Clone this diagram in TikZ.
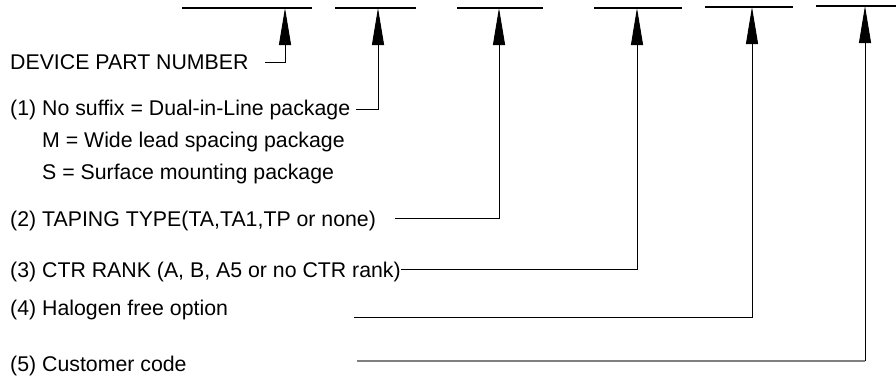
\documentclass[tikz,border=0pt]{standalone}
\usepackage{fontspec}
\setmainfont{Liberation Sans}
\usetikzlibrary{arrows.meta}
\tikzset{
  lbl/.style={anchor=base west, inner sep=0pt, font=\fontsize{21.3}{25}\selectfont},
  bar/.style={line width=1.1pt, black},
  conn/.style={line width=0.9pt, black, -{Triangle[length=37pt,width=12pt]}},
  graybar/.style={line width=1.8pt, gray},
}
\begin{document}
\begin{tikzpicture}[x=1pt,y=-1pt]
\useasboundingbox (0,0) rectangle (896,376);
% top bars
\draw[bar] (182,8) -- (312,8);
\draw[bar] (335,8) -- (416,8);
\draw[bar] (457,8) -- (543,8);
\draw[bar] (594,8) -- (682,8);
\draw[bar] (705,7) -- (793,7);
\draw[bar] (816,6) -- (896,6);
% arrow tips on bars
\coordinate (t0) at (285,8);
\coordinate (t1) at (378,8);
\coordinate (t2) at (499,8);
\coordinate (t3) at (637,8);
\coordinate (t4) at (752,7);
\coordinate (t5) at (865,6);
% labels
\node[lbl] (dpn) at (10,69) {DEVICE PART NUMBER};
\node[lbl] (l1) at (10,115) {(1) No suffix = Dual-in-Line package};
\node[lbl] (l1m) at (10,147) {\phantom{(1) }M = Wide lead spacing package};
\node[lbl] (l1s) at (10,179) {\phantom{(1) }S = Surface mounting package};
\node[lbl] (l2) at (10,226) {(2) TAPING TYPE(TA,TA1,TP or none)};
\node[lbl] (l3) at (10,277) {(3) CTR RANK (A, B, A5 or no CTR rank)};
\node[lbl] (l4) at (10,315.5) {(4) Halogen free option};
\node[lbl] (l5) at (10,371) {(5) Customer code};
% connector starts
\coordinate (s0) at (265,62.5);
\coordinate (s1) at (356,109);
\coordinate (s2) at (395,218);
\coordinate (s3) at (l3.east |- 0,269);
\coordinate (s4) at (354,317);
\coordinate (s5) at (357,361);
\coordinate (c5) at (865,361);
% connectors
\draw[conn] (s0) -| (t0);
\draw[conn] (s1) -| (t1);
\draw[conn] (s2) -| (t2);
\draw[conn] (s3) -| (t3);
\draw[conn] (s4) -| (t4);
\draw[graybar] (s5) -- (c5);
\draw[conn] (c5) -- (t5);
\end{tikzpicture}
\end{document}
